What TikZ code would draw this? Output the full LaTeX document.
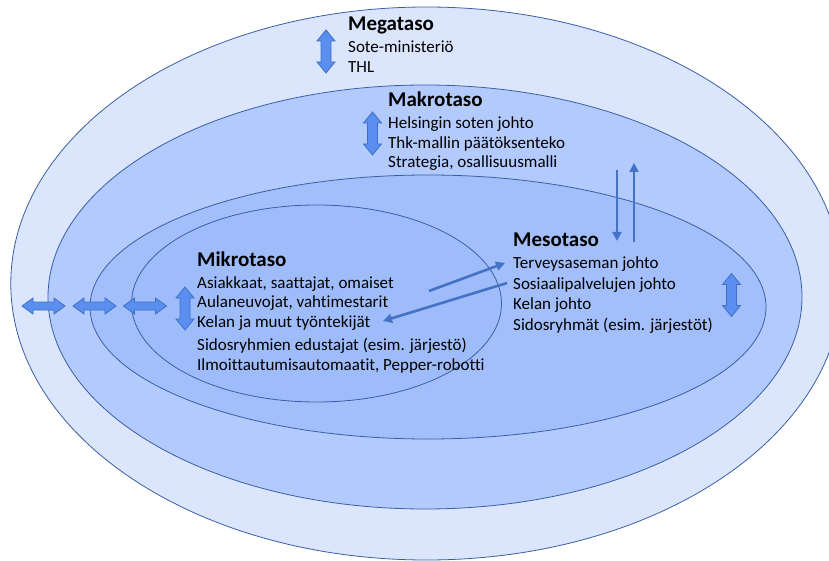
\documentclass[tikz,border=0pt]{standalone}
\usepackage{fontspec}
\setmainfont{Carlito}[Ligatures=NoCommon]
\usetikzlibrary{arrows.meta}

\definecolor{ringline}{HTML}{3A5FA5}
\definecolor{megafill}{HTML}{DBE6FD}
\definecolor{makrofill}{HTML}{B3CAFC}
\definecolor{mesofill}{HTML}{A2BFFB}
\definecolor{mikrofill}{HTML}{9FBCFA}
\definecolor{arrowfill}{HTML}{5B8FEF}
\definecolor{arrowline}{HTML}{3F6FC6}
\definecolor{flowblue}{HTML}{4472C4}

\begin{document}
\begin{tikzpicture}[x=1pt,y=-1pt,
  ring/.style={draw=ringline, line width=0.8pt},
  blockarrow/.style={draw=arrowline, fill=arrowfill, line width=0.8pt, line join=miter},
  levelname/.style={anchor=base west, inner sep=0pt, font=\bfseries\fontsize{21}{25}\selectfont},
  entry/.style={anchor=base west, inner sep=0pt, font=\fontsize{17}{20}\selectfont},
  flow/.style={draw=flowblue, line width=2.6pt, -{Triangle[length=9pt,width=9pt]}},
  pics/dblarrow/.style 2 args={code={
    \path[blockarrow] (-21.5,0) -- (-10.5,-#1) -- (-10.5,-#2) -- (10.5,-#2)
      -- (10.5,-#1) -- (21.5,0) -- (10.5,#1) -- (10.5,#2) -- (-10.5,#2)
      -- (-10.5,#1) -- cycle;
  }},
]
\useasboundingbox (0,0) rectangle (829,561);

% nested levels
\begin{scope}
  \clip (0,0) rectangle (829,561);
  \draw[ring, fill=megafill]  (426.5,283.5) ellipse [x radius=415.7pt, y radius=276.5pt];
  \draw[ring, fill=makrofill] (425,297)     ellipse [x radius=377pt,   y radius=212pt];
  \draw[ring, fill=mesofill]  (428,307)     ellipse [x radius=338pt,   y radius=132pt];
  \draw[ring, fill=mikrofill] (316.5,303.5) ellipse [x radius=185pt,   y radius=98.5pt];
\end{scope}

% Megataso
\node[levelname] (mega) at (348,31) {Megataso};
\node[entry] (mega1) at (348,53) {Sote-ministeriö};
\node[entry] (mega2) at (348,73) {THL};

% Makrotaso
\node[levelname] (makro) at (388,107) {Makrotaso};
\node[entry] (makro1) at (388,128.5) {Helsingin soten johto};
\node[entry] (makro2) at (388,148.5) {Thk-mallin päätöksenteko};
\node[entry] (makro3) at (388,168) {Strategia, osallisuusmalli};

% Mesotaso
\node[levelname] (meso) at (513,247) {Mesotaso};
\node[entry] (meso1) at (513,269) {Terveysaseman johto};
\node[entry] (meso2) at (513,289.5) {Sosiaalipalvelujen johto};
\node[entry] (meso3) at (513,309.5) {Kelan johto};
\node[entry] (meso4) at (513,330) {Sidosryhmät (esim. järjestöt)};

% Mikrotaso
\node[levelname] (mikro) at (197,266) {Mikrotaso};
\node[entry] (mikro1) at (197,288) {Asiakkaat, saattajat, omaiset};
\node[entry] (mikro2) at (197,307) {Aulaneuvojat, vahtimestarit};
\node[entry] (mikro3) at (197,327) {Kelan ja muut työntekijät};
\node[entry] (mikro4) at (197,350) {Sidosryhmien edustajat (esim. järjestö)};
\node[entry] (mikro5) at (197,370) {Ilmoittautumisautomaatit, Pepper-robotti};

% two-way block arrows
\pic[rotate=90] (megaarrow)  at (326,51.5)  {dblarrow={9}{5}};
\pic[rotate=90] (makroarrow) at (372.5,133.5) {dblarrow={9}{5}};
\pic[rotate=90] (mikroarrow) at (185,308.5) {dblarrow={9}{5}};
\pic[rotate=90] (mesoarrow)  at (731.5,295) {dblarrow={9}{5}};
\pic (sidearrowa) at (43.5,306) {dblarrow={8}{4}};
\pic (sidearrowb) at (94.5,306) {dblarrow={8}{4}};
\pic (sidearrowc) at (145,306)  {dblarrow={8}{4}};

% flows between the levels
\coordinate (downstart) at (617,170);
\coordinate (downend)   at (617,241);
\coordinate (upstart)   at (634,242);
\coordinate (upend)     at (634,163);
\coordinate (toMeso)    at (429,291);
\coordinate (mesoIn)    at (505,263);
\coordinate (fromMeso)  at (507,283);
\coordinate (mikroIn)   at (383,321);
\draw[flow] (downstart) -- (downend);
\draw[flow] (upstart) -- (upend);
\draw[flow] (toMeso) -- (mesoIn);
\draw[flow] (fromMeso) -- (mikroIn);
\end{tikzpicture}
\end{document}
